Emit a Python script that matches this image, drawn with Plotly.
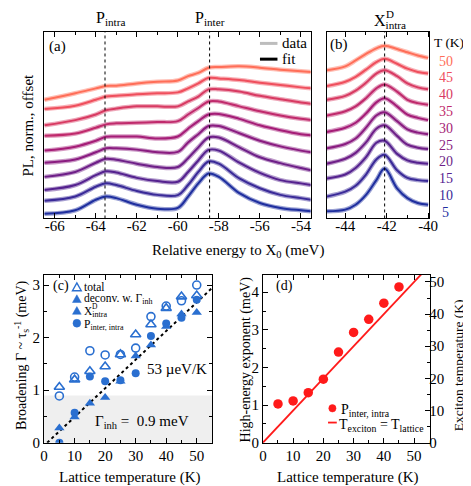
import plotly.graph_objects as go

W, H = 471, 486
FONT = "Liberation Serif, Times New Roman, serif"


def fx(p):
    return p / W


def fy(p):
    return 1 - p / H


# ---------------- data ----------------
TEMPS = [5, 10, 15, 20, 25, 30, 35, 40, 45, 50]
COLORS = ["#1f2f9f", "#3a2a98", "#55228f", "#6e1f88", "#8a1c80",
          "#a51d77", "#c02a6c", "#d83a62", "#ef4f5d", "#ff6e58"]

# panel (a): PL (normalized, offset) vs relative energy
ENERGY_A = [-66.5, -65, -64, -63.5, -63, -62, -61, -60, -59.5, -59, -58.5,
            -58, -57, -56, -55, -54, -53.5]
PL_A_05 = [0.47, 0.83, 1.90, 2.23, 2.07, 1.40, 1.00, 1.07, 2.23, 3.57, 4.57, 4.23, 2.57, 1.57, 1.07, 0.83, 0.73]
PL_A_10 = [1.80, 2.23, 3.23, 3.57, 3.40, 2.80, 2.40, 2.37, 3.40, 4.73, 5.80, 5.57, 4.07, 3.07, 2.40, 2.07, 1.90]
PL_A_15 = [2.90, 3.40, 4.40, 4.80, 4.67, 4.13, 3.80, 3.73, 4.73, 5.90, 6.97, 6.90, 5.67, 4.63, 3.90, 3.57, 3.40]
PL_A_20 = [4.23, 4.73, 5.67, 6.07, 5.97, 5.57, 5.23, 5.23, 6.13, 7.23, 8.23, 8.23, 7.23, 6.23, 5.63, 5.13, 4.90]
PL_A_25 = [5.67, 6.00, 6.73, 7.13, 7.13, 7.00, 6.73, 6.77, 7.73, 8.57, 9.40, 9.40, 8.67, 7.90, 7.33, 6.90, 6.73]
PL_A_30 = [6.90, 7.30, 7.90, 8.30, 8.33, 8.33, 8.13, 8.33, 9.13, 9.90, 10.57, 10.63, 10.13, 9.47, 8.97, 8.57, 8.47]
PL_A_35 = [8.40, 8.63, 9.23, 9.57, 9.67, 9.73, 9.80, 9.90, 10.57, 11.23, 11.90, 11.90, 11.40, 10.90, 10.47, 10.13, 10.00]
PL_A_40 = [9.47, 10.00, 10.57, 11.00, 11.17, 11.40, 11.40, 11.40, 11.90, 12.40, 13.13, 13.13, 12.90, 12.47, 12.13, 11.80, 11.67]
PL_A_45 = [11.13, 11.47, 12.07, 12.40, 12.47, 12.63, 12.73, 12.82, 13.23, 13.73, 14.30, 14.23, 14.07, 13.80, 13.57, 13.33, 13.23]
PL_A_50 = [12.07, 12.73, 13.23, 13.47, 13.50, 13.73, 13.90, 14.03, 14.47, 14.80, 15.33, 15.40, 15.47, 15.33, 15.13, 14.97, 14.90]
PL_A = [PL_A_05, PL_A_10, PL_A_15, PL_A_20, PL_A_25,
        PL_A_30, PL_A_35, PL_A_40, PL_A_45, PL_A_50]

# panel (b): X^D_intra peak
ENERGY_B = [-44.9, -44, -43.5, -43, -42.5, -42.1, -41.5, -41, -40.5, -40]
PL_B_05 = [0.73, 0.90, 1.40, 2.40, 3.90, 5.07, 3.07, 2.07, 1.57, 1.40]
PL_B_10 = [2.23, 2.73, 3.33, 4.47, 6.00, 6.47, 4.90, 4.13, 3.90, 3.80]
PL_B_15 = [4.07, 4.47, 5.13, 6.23, 7.70, 7.90, 6.57, 5.90, 5.67, 5.57]
PL_B_20 = [5.57, 6.07, 6.67, 7.73, 9.13, 9.47, 8.40, 7.50, 7.20, 7.07]
PL_B_25 = [7.13, 7.57, 8.13, 9.23, 10.47, 10.80, 9.90, 9.07, 8.73, 8.57]
PL_B_30 = [8.80, 9.23, 9.73, 10.67, 11.80, 12.23, 11.40, 10.57, 10.23, 10.00]
PL_B_35 = [10.47, 10.90, 11.40, 12.23, 13.23, 13.63, 12.90, 12.07, 11.73, 11.57]
PL_B_40 = [12.07, 12.47, 13.00, 13.80, 14.73, 15.07, 14.47, 13.73, 13.33, 13.13]
PL_B_45 = [13.47, 13.90, 14.40, 15.13, 15.90, 16.23, 15.73, 15.23, 14.90, 14.73]
PL_B_50 = [15.07, 15.47, 16.07, 16.73, 17.30, 17.57, 17.23, 16.90, 16.57, 16.33]
PL_B = [PL_B_05, PL_B_10, PL_B_15, PL_B_20, PL_B_25,
        PL_B_30, PL_B_35, PL_B_40, PL_B_45, PL_B_50]

P_INTRA = -63.55
P_INTER = -58.45
X_INTRA_D = -42.1

TICKS_A = [-66, -64, -62, -60, -58, -56, -54]
TICKS_B = [-44, -42, -40]

# panel (c): broadening
T_C = [5, 10, 15, 20, 25, 30, 35, 40, 45, 50]
X_TOTAL = [1.06, 1.20, 1.36, 1.45, 1.68, 2.06, 2.25, 2.56, 2.78, 2.80]
P_TOTAL = [0.89, 1.25, 1.75, 1.67, 1.68, 1.80, 2.40, 2.60, 2.70, 3.00]
X_DECONV = [0.28, 0.49, 0.75, 0.86, 1.17, 1.65, 1.86, 2.21, 2.45, 2.48]
P_DECONV = [0.00, 0.57, 1.26, 1.17, 1.19, 1.32, 2.03, 2.27, 2.38, 2.72]
GAMMA_INH = 0.9
FIT_T = [1.0, 56.0]
FIT_SLOPE = 0.0545  # meV/K as drawn (labelled 53 ueV/K)

# panel (d): high-energy exponent
T_D = [5, 10, 15, 20, 25, 30, 35, 40, 45]
EXPONENT = [1.03, 1.11, 1.33, 1.69, 2.41, 2.93, 3.28, 3.71, 4.14]
T_LINE = [0, 60]


def rgba(h, a):
    h = h.lstrip("#")
    r, g, b = int(h[0:2], 16), int(h[2:4], 16), int(h[4:6], 16)
    return f"rgba({r},{g},{b},{a})"


fig = go.Figure()

# spectra
for i, T in enumerate(TEMPS):
    c = COLORS[i]
    for xa, ya, ex, pl in (("x", "y", ENERGY_A, PL_A[i]), ("x2", "y2", ENERGY_B, PL_B[i])):
        fig.add_trace(go.Scatter(x=ex, y=pl, xaxis=xa, yaxis=ya, mode="lines",
                                 line=dict(color=rgba(c, 0.45), width=4.5, shape="spline", smoothing=1.0),
                                 hoverinfo="skip"))
        fig.add_trace(go.Scatter(x=ex, y=pl, xaxis=xa, yaxis=ya, mode="lines",
                                 line=dict(color=c, width=2, shape="spline", smoothing=1.0),
                                 name=f"{T} K"))

# panel (c)
BLUE = "#2a6fd0"
fig.add_trace(go.Scatter(x=FIT_T, y=[FIT_SLOPE * (t - FIT_T[0]) for t in FIT_T],
                         xaxis="x3", yaxis="y3", mode="lines",
                         line=dict(color="black", width=2, dash="dot")))
fig.add_trace(go.Scatter(x=T_C, y=P_TOTAL, xaxis="x3", yaxis="y3", mode="markers", name="P total",
                         marker=dict(symbol="circle-open", size=8, color=BLUE, line=dict(width=1.6))))
fig.add_trace(go.Scatter(x=T_C, y=X_TOTAL, xaxis="x3", yaxis="y3", mode="markers", name="X total",
                         marker=dict(symbol="triangle-up-open", size=9, color=BLUE, line=dict(width=1.6))))
fig.add_trace(go.Scatter(x=T_C, y=X_DECONV, xaxis="x3", yaxis="y3", mode="markers", name="X deconv",
                         marker=dict(symbol="triangle-up", size=9, color=BLUE)))
fig.add_trace(go.Scatter(x=T_C, y=P_DECONV, xaxis="x3", yaxis="y3", mode="markers", name="P deconv",
                         marker=dict(symbol="circle", size=8, color=BLUE)))

# panel (d)
fig.add_trace(go.Scatter(x=T_LINE, y=T_LINE, xaxis="x4", yaxis="y5", mode="lines",
                         line=dict(color="#ff1a1a", width=1.8), name="T_exciton = T_lattice"))
fig.add_trace(go.Scatter(x=T_D, y=EXPONENT, xaxis="x4", yaxis="y4", mode="markers",
                         marker=dict(symbol="circle", size=9.5, color="#ff1a1a"), name="P inter, intra"))

axis_base = dict(showline=True, linecolor="black", linewidth=1, mirror="ticks",
                 ticks="inside", ticklen=5, tickcolor="black", tickwidth=1,
                 showgrid=False, zeroline=False,
                 tickfont=dict(family=FONT, size=15, color="black"))


def ax(**kw):
    d = dict(axis_base)
    d.update(kw)
    return d


def minor(dt, **kw):
    d = dict(ticks="inside", ticklen=3, dtick=dt, tickcolor="black", showgrid=False)
    d.update(kw)
    return d


fig.update_layout(
    width=W, height=H, margin=dict(l=0, r=0, t=0, b=0),
    paper_bgcolor="white", plot_bgcolor="white", showlegend=False,
    font=dict(family=FONT, color="black"),
    xaxis=ax(domain=[fx(33), fx(307)], range=[-66.52, -53.53], anchor="y",
             tickmode="array", tickvals=TICKS_A, ticktext=[str(v) for v in TICKS_A],
             minor=minor(1, tickmode="linear", tick0=-66), ticklabelstandoff=-6),
    yaxis=ax(domain=[fy(214), fy(24)], range=[0, 19], anchor="x",
             ticks="", showticklabels=False, mirror=True),
    xaxis2=ax(domain=[fx(324), fx(429)], range=[-44.88, -39.95], anchor="y2",
              tickmode="array", tickvals=TICKS_B, ticktext=[str(v) for v in TICKS_B],
              minor=minor(1, tickmode="linear", tick0=-44), ticklabelstandoff=-6),
    yaxis2=ax(domain=[fy(214), fy(24)], range=[0, 19], anchor="x2",
              ticks="", showticklabels=False, mirror=True),
    xaxis3=ax(domain=[fx(33), fx(206)], range=[0, 55.1], anchor="y3",
              dtick=10, minor=minor(5), ticklabelstandoff=-1),
    yaxis3=ax(domain=[fy(442), fy(271)], range=[0, 3.2], anchor="x3",
              dtick=1, minor=minor(0.5)),
    xaxis4=ax(domain=[fx(258), fx(430)], range=[0, 55.3], anchor="y4",
              dtick=10, minor=minor(5), ticklabelstandoff=-1),
    yaxis4=ax(domain=[fy(442), fy(271)], range=[0, 4.47], anchor="x4",
              dtick=1, mirror=True, minor=minor(0.5)),
    yaxis5=ax(range=[0, 52.3], anchor="x4", overlaying="y4", side="right",
              dtick=10, mirror=False, showline=False, minor=minor(5),
              ticklabelstandoff=-2),
)

# reference lines, band
for xv, xr, yr in ((P_INTRA, "x", "y domain"), (P_INTER, "x", "y domain"), (X_INTRA_D, "x2", "y2 domain")):
    fig.add_shape(type="line", x0=xv, x1=xv, y0=0, y1=1, xref=xr, yref=yr,
                  line=dict(color="black", width=1, dash="dot"))
fig.add_shape(type="rect", x0=0, x1=1, xref="x3 domain", y0=0, y1=GAMMA_INH, yref="y3",
              fillcolor="#efefef", line=dict(width=0), layer="below")


# ---- hand-drawn legend symbols (paper coordinates) ----
def hline(x0, x1, y, color, width):
    fig.add_shape(type="line", xref="paper", yref="paper", x0=fx(x0), x1=fx(x1),
                  y0=fy(y), y1=fy(y), line=dict(color=color, width=width))


def tri(cx, cy, s, color, filled):
    h = s * 0.87
    path = (f"M {fx(cx - s / 2)},{fy(cy + h / 2)} L {fx(cx + s / 2)},{fy(cy + h / 2)} "
            f"L {fx(cx)},{fy(cy - h / 2)} Z")
    fig.add_shape(type="path", xref="paper", yref="paper", path=path,
                  fillcolor=color if filled else "rgba(0,0,0,0)",
                  line=dict(color=color, width=1.4 if not filled else 0.5))


def dot(cx, cy, d, color):
    fig.add_shape(type="circle", xref="paper", yref="paper",
                  x0=fx(cx - d / 2), x1=fx(cx + d / 2), y0=fy(cy + d / 2), y1=fy(cy - d / 2),
                  fillcolor=color, line=dict(color=color, width=0.5))


hline(255, 273, 36, "#bdbdbd", 3)
hline(255, 273, 52, "black", 3)
tri(66.7, 283.5, 9, BLUE, False)
tri(66.7, 295.5, 9, BLUE, True)
tri(66.7, 307.5, 9, BLUE, True)
dot(66.7, 320.5, 8, BLUE)
dot(329.5, 407, 7.5, "#ff1a1a")
hline(325, 334, 421.5, "#ff1a1a", 1.8)

ann = []


def A(text, x, y, size=14, **kw):
    d = dict(text=text, x=fx(x), y=fy(y), xref="paper", yref="paper", showarrow=False,
             font=dict(family=FONT, size=size, color=kw.pop("color", "black")),
             xanchor=kw.pop("xanchor", "center"), yanchor=kw.pop("yanchor", "middle"))
    d.update(kw)
    ann.append(d)


A("P<sub>intra</sub>", 101, 11, 16)
A("P<sub>inter</sub>", 204, 11, 16)
A("X<sub>intra</sub>", 370, 14, 16, xanchor="left")
A("D", 383, 6, 11, xanchor="left")
A("(a)", 47, 39, 15)
A("(b)", 336, 37, 15)
A("(c)", 50, 283, 14)
A("(d)", 280, 283, 14)
A("T (K)", 449, 35, 13.5)
for i, T in enumerate(TEMPS):
    A(str(T), 446, 207.7 - i * 17.07, 14, color=COLORS[i])

# legend texts
A("data", 276, 36, 15, xanchor="left")
A("fit", 276, 52, 15, xanchor="left")
A("total", 72, 283.5, 11.5, xanchor="left")
A("deconv. w. Γ<sub>inh</sub>", 72, 295.5, 11.5, xanchor="left")
A("X<sub>intra</sub>", 72, 309, 11.5, xanchor="left")
A("D", 80.5, 304, 7.5, xanchor="left")
A("P<sub>inter, intra</sub>", 72, 322, 11.5, xanchor="left")
A("P<sub>inter, intra</sub>", 336.5, 409, 14, xanchor="left")
A("T<sub>exciton</sub> = T<sub>lattice</sub>", 334.5, 424, 14, xanchor="left")

# axis titles
A("PL, norm., offset", 17, 119, 15, textangle=-90)
A("Relative energy to X<sub>0</sub> (meV)", 232, 247, 15)
A("Broadening Γ ~ τ<sub>s</sub><sup>-1</sup> (meV)", 10, 353, 14, textangle=-90)
A("Lattice temperature (K)", 121, 477, 15)
A("High-energy exponent (meV)", 241, 357, 14, textangle=-90)
A("Exciton temperature (K)", 459, 363, 13.5, textangle=-90)
A("Lattice temperature (K)", 346, 477, 15)
A("53 µeV/K", 170, 367, 15)
A("Γ<sub>inh</sub> =  0.9 meV", 134, 421, 15)

fig.update_layout(annotations=ann)

fig.write_html("out.html")
